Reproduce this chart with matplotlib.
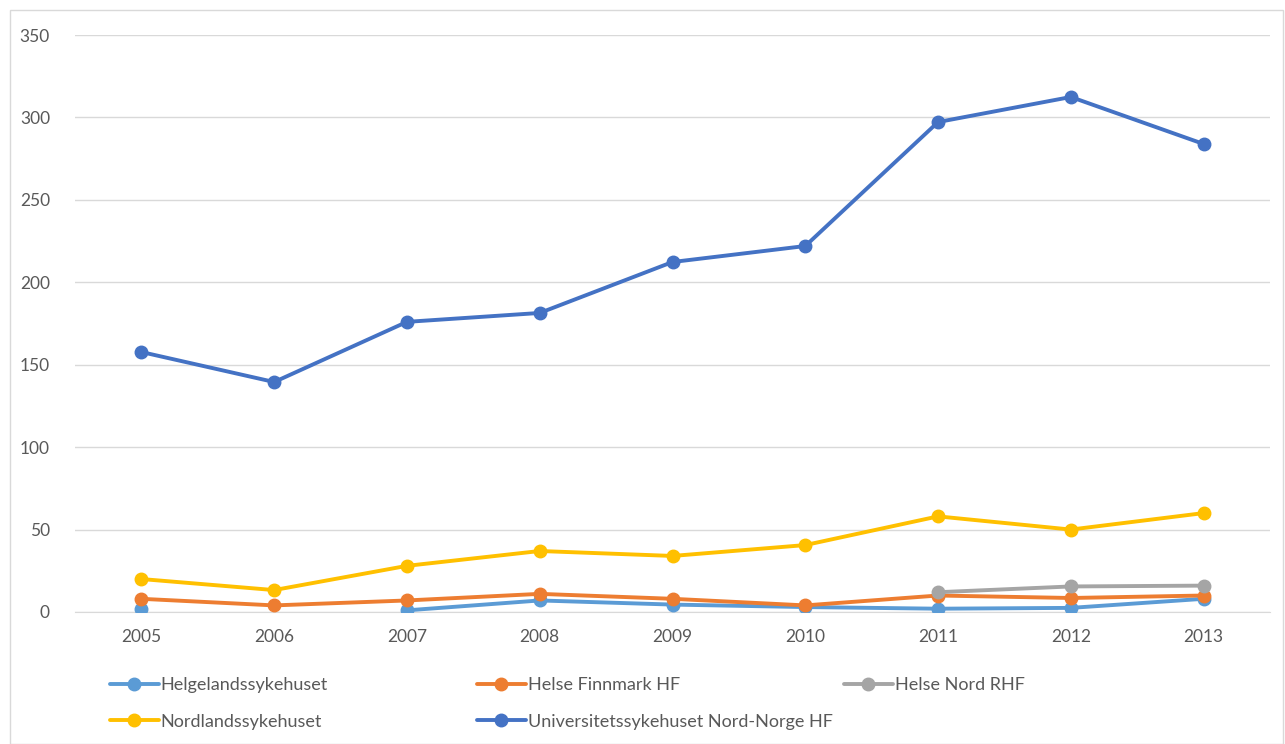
import matplotlib
matplotlib.use("Agg")
import matplotlib.pyplot as plt
import numpy as np
from matplotlib.patches import Rectangle

years = ["2005", "2006", "2007", "2008", "2009", "2010", "2011", "2012", "2013"]
helgeland = [2, None, 1, 7, 4.5, 3, 2, 2.5, 8]
finnmark = [8, 4, 7, 11, 8, 4, 10, 8.5, 10]
helse_nord = [None, None, None, None, None, None, 12, 15.5, 16]
nordland = [20, 13.3, 28, 37, 34, 40.6, 58, 50, 60]
unn = [157.7, 139.5, 176, 181.4, 212.3, 222, 297.2, 312.4, 283.9]

names = ["Helgelandssykehuset", "Helse Finnmark HF", "Helse Nord RHF",
         "Nordlandssykehuset", "Universitetssykehuset Nord-Norge HF"]
series = [helgeland, finnmark, helse_nord, nordland, unn]
colors = ["#5B9BD5", "#ED7D31", "#A5A5A5", "#FFC000", "#4472C4"]

plt.rcParams['font.family'] = ['Lato', 'DejaVu Sans']

fig = plt.figure(figsize=(12.85, 7.44), dpi=100)
ax = fig.add_axes([75/1285, 1-612/744, (1270-75)/1285, (612-35)/744])

x = np.arange(len(years))
lines = []
for name, vals, c in zip(names, series, colors):
    ys = np.array([np.nan if v is None else v for v in vals], dtype=float)
    ln, = ax.plot(x, ys, color=c, lw=2.8, marker='o', markersize=9,
                  solid_capstyle='round', label=name, zorder=3)
    lines.append(ln)

ax.set_xlim(-0.5, len(years) - 0.5)
ax.set_ylim(0, 350)
ax.set_yticks(range(0, 351, 50))
ax.set_xticks(x)
ax.set_xticklabels(years)
ax.grid(axis='y', color='#D9D9D9', lw=1)
ax.set_axisbelow(True)
for s in ['top', 'right', 'left']:
    ax.spines[s].set_visible(False)
ax.spines['bottom'].set_color('#D9D9D9')
ax.tick_params(axis='both', length=0, labelsize=12.5, colors='#595959', pad=12)
ax.tick_params(axis='y', pad=18)

# legend columns
cols = [(110, [0, 3]), (477, [1, 4]), (844, [2])]
for xpix, idx in cols:
    leg = fig.legend([lines[i] for i in idx], [names[i] for i in idx],
                     loc='upper left', bbox_to_anchor=(xpix/1285, 1-677/744),
                     frameon=False, fontsize=13, handlelength=2.7,
                     handletextpad=0.1, labelspacing=1.15, borderaxespad=0,
                     borderpad=0, labelcolor='#595959')

fig.patches.append(Rectangle((10/1285, 0), (1283-10)/1285, 1-10/744,
                             transform=fig.transFigure, fill=False,
                             edgecolor='#D9D9D9', lw=1))
fig.savefig("out.png", dpi=100)
